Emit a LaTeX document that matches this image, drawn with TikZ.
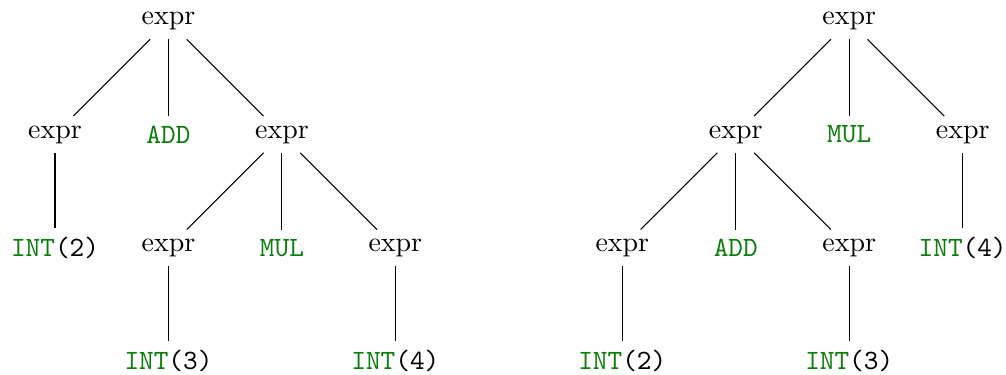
\documentclass[tikz,border=0pt]{standalone}
\usepackage{xcolor}
\usetikzlibrary{positioning}

\definecolor{tokgreen}{RGB}{10,125,10}
\newcommand{\tkn}[1]{\textcolor{tokgreen}{\texttt{#1}}}
\newcommand{\intlit}[1]{\tkn{INT}\texttt{(#1)}}

\begin{document}
\begin{tikzpicture}[x=1.5cm, y=1.5cm, font=\fontsize{10.5pt}{12.6pt}\selectfont]
        \useasboundingbox (-0.485,0.185) rectangle (8.382,-3.119);

        % Nodes: 2 + (3 * 4)
        \node (l) at (1, 0) {expr};
        \node (l1) at (0, -1) {expr};
        \node (l2) at (1, -1) {\tkn{ADD}};
        \node (l3) at (2, -1) {expr};
        \node (l11) at (0, -2) {\intlit{2}};
        \node (l31) at (1, -2) {expr};
        \node (l32) at (2, -2) {\tkn{MUL}};
        \node (l33) at (3, -2) {expr};
        \node (l311) at (1, -3) {\intlit{3}};
        \node (l331) at (3, -3) {\intlit{4}};

        % Nodes: (2 + 3) * 4
        \node (r) at (7, 0) {expr};
        \node (r1) at (6, -1) {expr};
        \node (r2) at (7, -1) {\tkn{MUL}};
        \node (r3) at (8, -1) {expr};
        \node (r11) at (5, -2) {expr};
        \node (r12) at (6, -2) {\tkn{ADD}};
        \node (r13) at (7, -2) {expr};
        \node (r31) at (8, -2) {\intlit{4}};
        \node (r111) at (5, -3) {\intlit{2}};
        \node (r131) at (7, -3) {\intlit{3}};

        % Edges
        \draw (l) -- (l1);
        \draw (l) -- (l2);
        \draw (l) -- (l3);
        \draw (l1) -- (l11);
        \draw (l3) -- (l31);
        \draw (l3) -- (l32);
        \draw (l3) -- (l33);
        \draw (l31) -- (l311);
        \draw (l33) -- (l331);

        \draw (r) -- (r1);
        \draw (r) -- (r2);
        \draw (r) -- (r3);
        \draw (r1) -- (r11);
        \draw (r1) -- (r12);
        \draw (r1) -- (r13);
        \draw (r3) -- (r31);
        \draw (r11) -- (r111);
        \draw (r13) -- (r131);
    \end{tikzpicture}
\end{document}
